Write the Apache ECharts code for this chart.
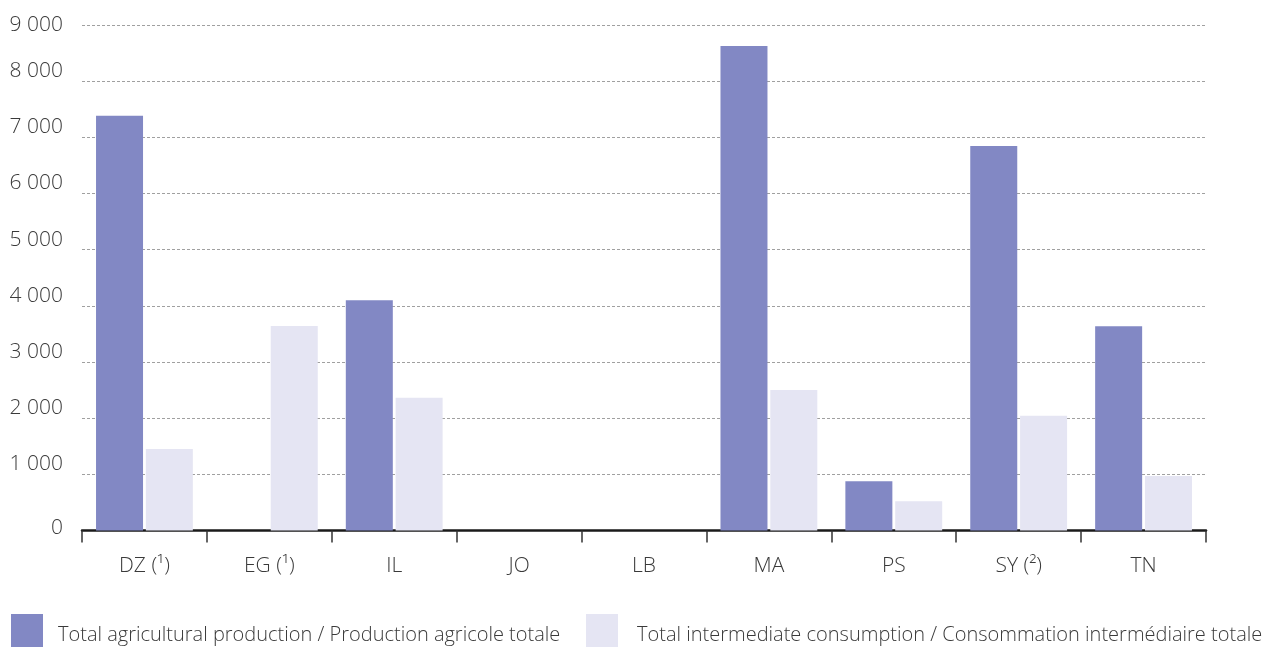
<!DOCTYPE html>
<html>
<head>
<meta charset="utf-8">
<script src="https://cdn.jsdelivr.net/npm/echarts@6/dist/echarts.min.js"></script>
<style>
html,body{margin:0;padding:0;background:#fff;}
#chart{width:1269px;height:650px;}
</style>
</head>
<body>
<div id="chart"></div>
<script>
const categories = ['DZ (¹)', 'EG (¹)', 'IL', 'JO', 'LB', 'MA', 'PS', 'SY (²)', 'TN'];
const seriesNames = ['Total agricultural production / Production agricole totale',
                     'Total intermediate consumption / Consommation intermédiaire totale'];
const production = [7385, null, 4100, null, null, 8625, 875, 6845, 3635];
const consumption = [1450, 3640, 2365, null, null, 2500, 520, 2045, 970];
const yTicks = [0, 1000, 2000, 3000, 4000, 5000, 6000, 7000, 8000, 9000];

const FONT = '"Open Sans", "Noto Sans", sans-serif';
const TXT = '#3a3a3a';
const C1 = '#8288C4';
const C2 = '#E5E5F3';

function fmt(v) {
  return String(v).replace(/\B(?=(\d{3})+(?!\d))/g, ' ');
}

const legendText = {fontFamily: FONT, fontSize: 20, fontWeight: 300, color: TXT};

function legendCfg(name, left, padLeft) {
  return {
    data: [name], left: left, top: 614, padding: 0, icon: 'rect',
    itemWidth: 32, itemHeight: 33,
    formatter: function (n) { return '{t|' + n + '}'; },
    textStyle: Object.assign({}, legendText, {
      rich: {t: Object.assign({}, legendText, {padding: [10, 0, 0, padLeft]})}
    })
  };
}

const chart = echarts.init(document.getElementById('chart'), null, {renderer: 'canvas'});
chart.setOption({
  animation: false,
  backgroundColor: '#fff',
  grid: {left: 82, right: 63, top: 25, bottom: 119.5, containLabel: false},
  legend: [
    legendCfg(seriesNames[0], 11, 10),
    legendCfg(seriesNames[1], 586, 14)
  ],
  xAxis: {
    type: 'category',
    data: categories,
    boundaryGap: true,
    axisLine: {show: true, lineStyle: {color: '#1a1a1a', width: 2.5}},
    axisTick: {show: true, alignWithLabel: false, length: 12, lineStyle: {color: '#333', width: 1.5}},
    axisLabel: {margin: 25, fontFamily: FONT, fontSize: 21, fontWeight: 300, color: TXT},
    splitLine: {show: false}
  },
  yAxis: {
    type: 'value',
    min: yTicks[0],
    max: yTicks[yTicks.length - 1],
    interval: 1000,
    axisLine: {show: false},
    axisTick: {show: false},
    axisLabel: {
      margin: 19,
      fontFamily: FONT, fontSize: 21, fontWeight: 300, color: TXT,
      formatter: function (v) {
        if (v === yTicks[yTicks.length - 1]) return '{top|' + fmt(v) + '}';
        if (v === 0) return '{zero|' + fmt(v) + '}';
        return '{mid|' + fmt(v) + '}';
      },
      rich: {
        top: {fontFamily: FONT, fontSize: 21, fontWeight: 300, color: TXT},
        zero: {fontFamily: FONT, fontSize: 21, fontWeight: 300, color: TXT, padding: [0, 0, 4, 0]},
        mid: {fontFamily: FONT, fontSize: 21, fontWeight: 300, color: TXT, padding: [0, 0, 20, 0]}
      }
    },
    splitLine: {show: true, lineStyle: {color: '#a0a0a0', width: 1, type: [3, 2]}}
  },
  series: [
    {
      name: seriesNames[0], type: 'bar', data: production,
      barWidth: 47, barGap: '6%',
      itemStyle: {color: C1}
    },
    {
      name: seriesNames[1], type: 'bar', data: consumption,
      barWidth: 47, barGap: '6%',
      itemStyle: {color: C2}
    }
  ]
});
</script>
</body>
</html>
